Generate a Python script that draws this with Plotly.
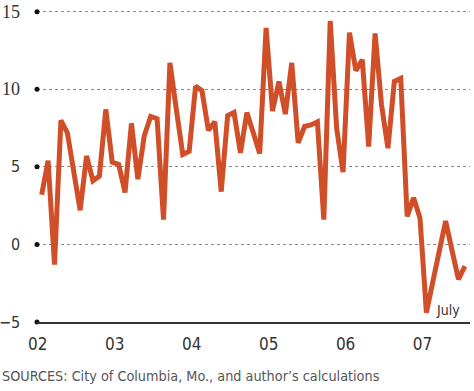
import plotly.graph_objects as go

# Monthly values, Jan 2002 .. Jul 2007
values = [3.2, 5.4, -1.3, 8.0, 7.2, 4.7, 2.2, 5.7, 4.1, 4.4, 8.7, 5.3,
          5.15, 3.35, 7.8, 4.2, 7.0, 8.25, 8.1, 1.6, 11.7, 8.7, 5.8, 6.0,
          10.2, 9.9, 7.35, 7.9, 3.4, 8.3, 8.5, 5.9, 8.5, 7.2, 5.85, 13.95,
          8.6, 10.5, 8.4, 11.7, 6.55, 7.6, 7.7, 7.9, 1.6, 14.4, 7.5, 4.65,
          13.65, 11.2, 11.9, 6.3, 13.6, 9.0, 6.2, 10.5, 10.7, 1.8, 3.0, 1.7,
          -4.4, -2.4, -0.5, 1.5, -0.4, -2.25, -1.4]
months = list(range(len(values)))
years = [2002, 2003, 2004, 2005, 2006, 2007]
year_labels = ["02", "03", "04", "05", "06", "07"]
y_ticks = [-5, 0, 5, 10, 15]
y_labels = ["\u22125", "0", "5", "10", "15"]
y_label_fonts = ["sans", "sans", "sans", "serif", "serif"]

XMIN, XMAX = -0.73, 66.8
COND = "Liberation Sans Narrow, DejaVu Sans Condensed, Roboto Condensed, sans-serif"
SERIF = "Liberation Serif, DejaVu Serif, serif"

fig = go.Figure()
fig.add_trace(go.Scatter(x=months, y=values, mode="lines",
                         line=dict(color="#D04E28", width=5, shape="linear"),
                         hoverinfo="skip"))
fig.add_trace(go.Scatter(x=[XMIN] * len(y_ticks), y=y_ticks, mode="markers",
                         marker=dict(color="#111111", size=5),
                         cliponaxis=False, hoverinfo="skip"))

annotations = []
for v, lab, f in zip(y_ticks, y_labels, y_label_fonts):
    annotations.append(dict(
        text=lab, xref="paper", yref="y", x=-16 / 433, y=v,
        xanchor="right", yanchor="middle", showarrow=False, borderpad=0,
        font=dict(family=SERIF if f == "serif" else COND,
                  size=18 if f == "serif" else 16, color="#333333")))
annotations += [
    dict(text="July", xref="paper", yref="paper", x=0.982, y=0.038,
         xanchor="right", yanchor="middle", showarrow=False,
         font=dict(family=COND, size=14, color="#333333")),
    dict(text="SOURCES: City of Columbia, Mo., and author\u2019s calculations",
         xref="paper", yref="paper", x=-36 / 433, y=-(376 - 322) / 315,
         xanchor="left", yanchor="middle", showarrow=False, borderpad=0,
         font=dict(family=COND, size=14.3, color="#555555")),
]

fig.update_layout(
    width=474, height=391,
    margin=dict(l=37, r=4, t=7, b=69, autoexpand=False),
    paper_bgcolor="white", plot_bgcolor="white",
    showlegend=False,
    xaxis=dict(range=[XMIN, XMAX], showgrid=False, zeroline=False,
               automargin=False,
               showline=True, linecolor="#333333", linewidth=2,
               tickvals=[(y - 2002) * 12 - 0.6 for y in years],
               ticktext=year_labels, ticks="outside", ticklen=6,
               tickcolor="rgba(0,0,0,0)",
               tickfont=dict(family=COND, size=17, color="#333333")),
    yaxis=dict(range=[-5, 15.3], showgrid=True, gridcolor="#8a8a8a",
               automargin=False,
               griddash="dot", gridwidth=1, zeroline=False, showline=False,
               tickvals=y_ticks, showticklabels=False, ticks=""),
    annotations=annotations,
)

fig.write_html("out.html", config={"displayModeBar": False},
               post_script="document.body.style.margin='0px';")
